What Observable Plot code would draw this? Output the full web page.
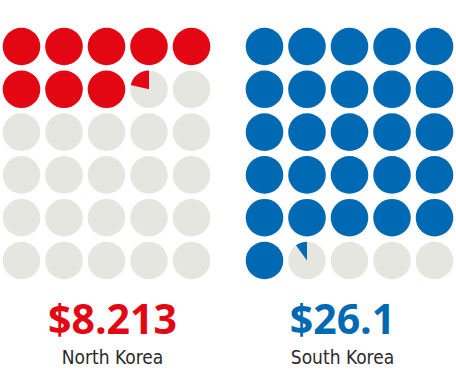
<!DOCTYPE html>
<html><head><meta charset="utf-8">
<script src="https://cdn.jsdelivr.net/npm/d3@7"></script>
<script src="https://cdn.jsdelivr.net/npm/@observablehq/plot@0.6"></script>
<style>body{margin:0;background:#fff}</style>
</head><body><div id="chart"></div>
<script>
const countries = ["North Korea", "South Korea"];
const values = [8.213, 26.1];
const valueLabels = ["$8.213", "$26.1"];
const colors = ["#e30613", "#0069b4"];
const emptyColor = "#e6e6e0";
const columns = 5, rows = 6;

const cells = countries.flatMap((country, k) => d3.range(columns * rows).map(i => ({
  country,
  col: i % columns,
  row: Math.floor(i / columns),
  fill: Math.max(0, Math.min(1, values[k] - i))
})));
const summary = countries.map((country, k) => ({country, label: valueLabels[k]}));

function wedge(f) {
  return {draw(ctx, size) {
    const r = Math.sqrt(size / Math.PI);
    ctx.moveTo(0, 0);
    ctx.arc(0, 0, r, -Math.PI / 2, -Math.PI / 2 - 2 * Math.PI * f, true);
    ctx.closePath();
  }};
}

const R = 18.8;
const marks = [
  Plot.dot(cells.filter(d => d.fill < 1), {fx: "country", x: "col", y: "row", r: R, fill: emptyColor}),
  Plot.dot(cells.filter(d => d.fill === 1), {fx: "country", x: "col", y: "row", r: R, fill: "country"})
];
countries.forEach((c, k) => {
  cells.filter(d => d.country === c && d.fill > 0 && d.fill < 1).forEach(d => {
    marks.push(Plot.dot([d], {fx: "country", x: "col", y: "row", r: R, fill: colors[k], symbol: wedge(d.fill)}));
  });
});
const shifts = [6, -7];
countries.forEach((c, k) => {
  const data = summary.filter(d => d.country === c);
  marks.push(Plot.text(data, {fx: "country", x: () => 2, frameAnchor: "bottom", text: "label",
    fill: colors[k], fontSize: 41, fontWeight: "bold", lineAnchor: "bottom", dy: -51, dx: shifts[k],
    fontFamily: "Open Sans"}));
  marks.push(Plot.text(data, {fx: "country", x: () => 2, frameAnchor: "bottom", text: "country",
    fill: "#2a2a2a", fontSize: 19, lineAnchor: "bottom", dy: -21, dx: shifts[k],
    fontFamily: "'DejaVu Sans Condensed', 'DejaVu Sans', sans-serif"}));
});

const chart = Plot.plot({
  width: 456, height: 384, margin: 0,
  fx: {domain: countries, range: [0, 486], padding: 0, axis: null},
  x: {domain: [0, 4], range: [21, 191], axis: null},
  y: {domain: [0, 5], range: [46, 260], axis: null},
  color: {domain: countries, range: colors},
  style: {background: "#fff"},
  marks
});
document.getElementById("chart").append(chart);
</script>
</body></html>
